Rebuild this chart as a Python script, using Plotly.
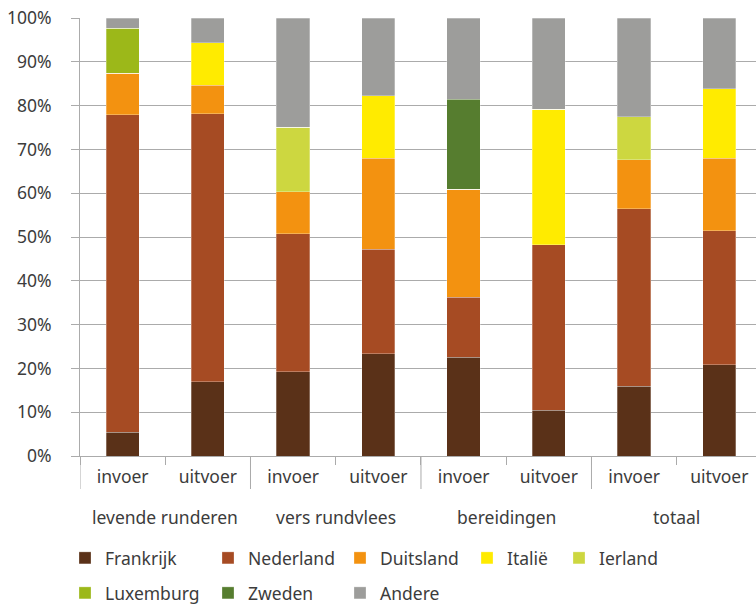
import plotly.graph_objects as go

groups = ["levende runderen", "levende runderen", "vers rundvlees", "vers rundvlees",
          "bereidingen", "bereidingen", "totaal", "totaal"]
flows = ["invoer", "uitvoer"] * 4

countries = ["Frankrijk", "Nederland", "Duitsland", "Italië", "Ierland",
             "Luxemburg", "Zweden", "Andere"]
frankrijk = [5.4, 16.9, 19.2, 23.4, 22.6, 10.5, 15.9, 20.8]
nederland = [72.5, 61.2, 31.5, 23.8, 13.6, 37.7, 40.6, 30.6]
duitsland = [9.5, 6.6, 9.6, 20.8, 24.7, 0.0, 11.1, 16.6]
italie = [0.0, 9.6, 0.0, 14.3, 0.0, 31.0, 0.0, 15.9]
ierland = [0.0, 0.0, 14.8, 0.0, 0.0, 0.0, 9.8, 0.0]
luxemburg = [10.3, 0.0, 0.0, 0.0, 0.0, 0.0, 0.0, 0.0]
zweden = [0.0, 0.0, 0.0, 0.0, 20.6, 0.0, 0.0, 0.0]
andere = [2.3, 5.7, 24.9, 17.7, 18.5, 20.8, 22.6, 16.1]

series = [frankrijk, nederland, duitsland, italie, ierland, luxemburg, zweden, andere]
colors = ["#5a3118", "#a64b23", "#f39210", "#ffeb00", "#cdd740",
          "#9cb819", "#567d2f", "#9d9d9b"]

# unique category keys, shown with the flow name
cats = [f"{g}|{f}" for g, f in zip(groups, flows)]

W, H = 756, 605
L, T, B = 80, 18, 456
plot_w = W - L
plot_h = B - T

# legend positions in pixels (left edge of symbol, text center y)
leg_pos = [(80, 558), (223, 558), (355, 558), (482, 558), (574, 558),
           (80, 593), (223, 593), (355, 593)]

font_family = "Noto Sans"
fs = 17.5
txt = "#3c3c3c"
grid = "#ababab"

fig = go.Figure()
layout_legends = {}
for i, (name, vals, col) in enumerate(zip(countries, series, colors)):
    lid = "legend" if i == 0 else f"legend{i+1}"
    fig.add_trace(go.Bar(
        x=cats, y=vals, name=name,
        marker=dict(color=col, line=dict(width=0.8, color="rgba(255,255,255,0.35)")),
        legend=lid,
    ))
    px, py = leg_pos[i]
    layout_legends[lid] = dict(
        x=(px - 15 - L) / plot_w,
        y=(B - py) / plot_h,
        xanchor="left", yanchor="middle",
        orientation="h", bgcolor="rgba(0,0,0,0)",
        font=dict(family=font_family, size=fs, color=txt),
        itemwidth=30, tracegroupgap=0,
    )

# group labels and dividers derived from the category list
unique_groups = list(dict.fromkeys(groups))
annotations = []
shapes = []
for g in unique_groups:
    idx = [i for i, gg in enumerate(groups) if gg == g]
    annotations.append(dict(
        x=sum(idx) / len(idx), xref="x", y=(B - 517) / plot_h, yref="paper",
        text=g, showarrow=False, xanchor="center", yanchor="middle",
        font=dict(family=font_family, size=fs, color=txt),
    ))
    shapes.append(dict(
        type="line", xref="x", yref="paper",
        x0=idx[0] - 0.5, x1=idx[0] - 0.5, y0=0, y1=(B - 489) / plot_h,
        line=dict(color=grid, width=1),
    ))

fig.update_layout(
    width=W, height=H,
    margin=dict(l=L, r=0, t=T, b=H - B, autoexpand=False),
    barmode="stack", bargap=0.61,
    plot_bgcolor="white", paper_bgcolor="white",
    font=dict(family=font_family, size=fs, color=txt),
    showlegend=True,
    xaxis=dict(
        type="category",
        range=[-0.5, 7.43],
        tickvals=cats, ticktext=flows,
        showline=True, linecolor=grid, linewidth=1,
        ticks="outside", tickson="boundaries", ticklen=8, tickcolor=grid,
        showgrid=False, automargin=False,
        tickfont=dict(family=font_family, size=fs, color=txt),
        ticklabelstandoff=5, ticklabeloverflow="allow",
    ),
    yaxis=dict(
        range=[0, 100], dtick=10, ticksuffix="%",
        showgrid=True, gridcolor=grid, gridwidth=1,
        showline=True, linecolor=grid, linewidth=1,
        ticks="outside", ticklen=8, tickcolor=grid,
        zeroline=False, automargin=False,
        tickfont=dict(family=font_family, size=fs, color=txt),
        ticklabelstandoff=16, ticklabeloverflow="allow",
    ),
    annotations=annotations,
    shapes=shapes,
    **layout_legends,
)

fig.write_html("out.html", config={"displayModeBar": False},
               post_script="document.body.style.margin='0px';")
